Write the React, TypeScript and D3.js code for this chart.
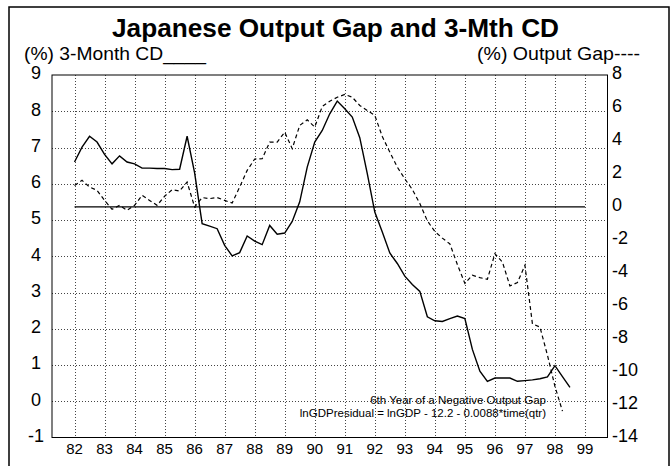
import * as d3 from 'd3';
import React from 'react';

// quarterly observations, first one is 1982 Q1
const startYear = 82;
const cdRate = [
  6.6, 7.01, 7.31, 7.15,
  6.81, 6.55, 6.77, 6.6,
  6.55, 6.43, 6.43, 6.42,
  6.42, 6.39, 6.4, 7.31,
  6.3, 4.9, 4.83, 4.76,
  4.3, 4.01, 4.1, 4.56,
  4.42, 4.32, 4.85, 4.61,
  4.64, 4.96, 5.5, 6.46,
  7.15, 7.47, 7.93, 8.28,
  8.07, 7.84, 7.27, 6.28,
  5.22, 4.67, 4.09, 3.8,
  3.45, 3.22, 3.03, 2.33,
  2.22, 2.2, 2.28, 2.35,
  2.28, 1.43, 0.83, 0.55,
  0.64, 0.64, 0.64, 0.55,
  0.57, 0.59, 0.62, 0.67,
  0.98, 0.68, 0.38,
];
const outputGap = [
  1.3, 1.61, 1.2, 1.0,
  0.39, -0.15, 0.09, -0.21,
  0.09, 0.7, 0.39, 0.09,
  0.64, 1.04, 0.96, 1.5,
  -0.01, 0.56, 0.5, 0.56,
  0.39, 0.23, 1.2, 2.21,
  2.9, 2.92, 3.93, 3.93,
  4.53, 3.53, 4.94, 5.28,
  4.84, 6.09, 6.41, 6.65,
  6.82, 6.65, 6.15, 5.85,
  5.55, 4.27, 3.32, 2.41,
  1.7, 1.05, 0.2, -0.85,
  -1.5, -1.9, -2.25, -3.5,
  -4.65, -4.15, -4.3, -4.4,
  -2.84, -3.35, -4.8, -4.6,
  -3.55, -7.1, -7.3, -9.0,
  -10.9, -12.4,
];
const zeroLine = [{ t: 82, v: 0 }, { t: 99, v: 0 }];

const yearTicks = [82, 83, 84, 85, 86, 87, 88, 89, 90, 91, 92, 93, 94, 95, 96, 97, 98, 99];
const leftTicks = [9, 8, 7, 6, 5, 4, 3, 2, 1, 0, -1];
const leftGrid = [8, 7, 6, 5, 4, 3, 2, 1, 0];
const rightTicks = [8, 6, 4, 2, 0, -2, -4, -6, -8, -10, -12, -14];

const title = 'Japanese Output Gap and 3-Mth CD';
const leftLabel = '(%) 3-Month CD____';
const rightLabel = '(%) Output Gap----';
const note1 = '6th Year of a Negative Output Gap';
const note2 = 'lnGDPresidual = lnGDP - 12.2 - 0.0088*time(qtr)';

const font = '"Liberation Sans", Arial, sans-serif';

const App = () => {
  const width = 671;
  const height = 466;
  const plot = { left: 52, right: 607.5, top: 75, bottom: 437.5 };

  const x = d3.scaleLinear().domain([81.25, 99.75]).range([plot.left, plot.right]);
  const yLeft = d3.scaleLinear().domain([-1, 9]).range([plot.bottom, plot.top]);
  const yRight = d3.scaleLinear().domain([-14, 8]).range([plot.bottom, plot.top]);

  const cdLine = d3.line<number>()
    .x((d, i) => x(startYear + i / 4))
    .y((d) => yLeft(d));
  const gapLine = d3.line<number>()
    .x((d, i) => x(startYear + i / 4))
    .y((d) => yRight(d));
  const baseLine = d3.line<{ t: number; v: number }>()
    .x((d) => x(d.t))
    .y((d) => yRight(d.v));

  return (
    <svg width={width} height={height} style={{ position: 'absolute', left: 0, top: 0, background: '#fff' }}
      fontFamily={font}>
      <rect x={0} y={0} width={width} height={height} fill='#fff' />
      {/* outer frame */}
      <rect x={9} y={7} width={660} height={475} fill='none' stroke='#000' strokeWidth={1.5} />

      <text x={335.5} y={37} fontSize={26} fontWeight='bold' textAnchor='middle'
        textLength={447} lengthAdjust='spacingAndGlyphs'>{title}</text>
      <text x={24} y={60} fontSize={19} textLength={182} lengthAdjust='spacingAndGlyphs'>{leftLabel}</text>
      <text x={477} y={60} fontSize={19} textLength={163} lengthAdjust='spacingAndGlyphs'>{rightLabel}</text>

      {/* grid */}
      <g stroke='#444' strokeWidth={1} strokeDasharray='1 2'>
        {yearTicks.map((t) => (
          <line key={'v' + t} x1={Math.round(x(t)) + 0.5} x2={Math.round(x(t)) + 0.5} y1={plot.top} y2={plot.bottom} />
        ))}
        {leftGrid.map((v) => (
          <line key={'h' + v} x1={plot.left} x2={plot.right} y1={Math.round(yLeft(v)) + 0.5} y2={Math.round(yLeft(v)) + 0.5} />
        ))}
      </g>

      <rect x={plot.left} y={plot.top} width={plot.right - plot.left} height={plot.bottom - plot.top}
        fill='none' stroke='#000' strokeWidth={1} />

      <path d={baseLine(zeroLine) || ''} fill='none' stroke='#000' strokeWidth={1.2} />
      <path d={gapLine(outputGap) || ''} fill='none' stroke='#000' strokeWidth={1.2} strokeDasharray='4 3' />
      <path d={cdLine(cdRate) || ''} fill='none' stroke='#000' strokeWidth={1.4} />

      {/* axes labels */}
      {leftTicks.map((v) => (
        <text key={'l' + v} x={36} y={yLeft(v) - 2} dy='0.36em' fontSize={18} textAnchor='middle'>{v}</text>
      ))}
      {rightTicks.map((v) => (
        <text key={'r' + v} x={612} y={yRight(v) - 2} dy='0.36em' fontSize={18}>{v}</text>
      ))}
      {yearTicks.map((t) => (
        <text key={'x' + t} x={x(t)} y={454} fontSize={15} textAnchor='middle'>{t}</text>
      ))}

      <text x={546} y={403.5} fontSize={11.5} textAnchor='end'>{note1}</text>
      <text x={546} y={416.5} fontSize={11.5} textAnchor='end'>{note2}</text>
    </svg>
  );
};

export default App;
